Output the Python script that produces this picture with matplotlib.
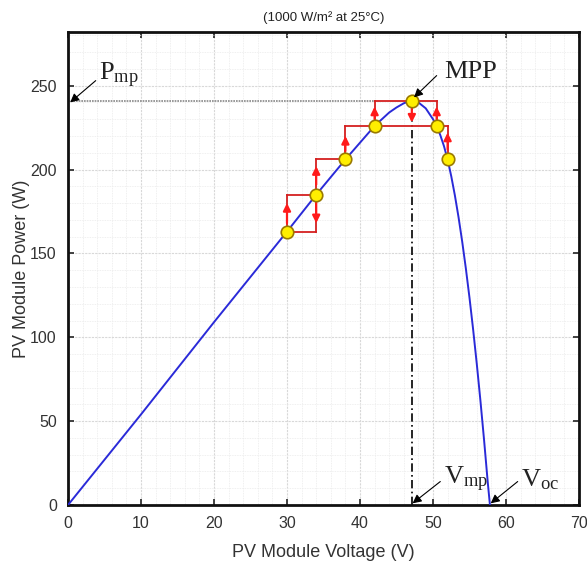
import matplotlib
matplotlib.use("Agg")
import matplotlib.pyplot as plt
from matplotlib.ticker import MultipleLocator

plt.rcParams['font.family'] = ['Liberation Sans', 'DejaVu Sans']
plt.rcParams['mathtext.fontset'] = 'custom'
plt.rcParams['mathtext.rm'] = 'Liberation Serif'
plt.rcParams['mathtext.it'] = 'Liberation Serif'

# P-V curve
curve_v = [0, 10, 20, 30, 34, 38, 40, 42, 43, 44, 45, 46, 47, 48, 49, 50, 50.5,
           51, 51.5, 52, 52.5, 53, 53.5, 54, 54.5, 55, 55.5, 56, 56.5, 57, 57.5, 57.8]
curve_p = [0, 54, 109, 163, 185, 206, 216, 226, 230, 234, 237, 239.5, 241, 240,
           236.5, 230, 226, 220.5, 214, 206, 196, 184.5, 171.5, 157, 141, 123.5,
           104.5, 84, 62, 38.5, 13.5, 0]

# perturb & observe operating points
track_v = [30, 34, 38, 42, 47.1, 50.5, 52]
track_p = [163, 185, 206, 226, 241, 226, 206]

# staircase segments (v0, p0, v1, p1)
steps = [
    (30, 163, 34, 163), (30, 163, 30, 185), (30, 185, 34, 185), (34, 163, 34, 185),
    (34, 185, 34, 206), (34, 206, 38, 206),
    (38, 206, 38, 226), (38, 226, 52, 226),
    (42, 226, 42, 241), (42, 241, 50.5, 241),
    (50.5, 226, 50.5, 241),
    (52, 206, 52, 226),
]
# red arrows (v, p_from, p_to)
arrows = [
    (30, 168, 180), (34, 181, 168), (34, 191, 202), (38, 211, 220),
    (42, 230, 237.5), (47.1, 237, 228), (50.5, 230, 237.5), (52, 212, 222),
]

v_mp, p_mp, v_oc = 47.1, 241, 57.8

fig = plt.figure(figsize=(5.87, 5.67), dpi=100)
ax = fig.add_axes([0.1158, 0.1093, 0.8706, 0.8343])

ax.set_xlim(0, 70)
ax.set_ylim(0, 282)
ax.xaxis.set_major_locator(MultipleLocator(10))
ax.yaxis.set_major_locator(MultipleLocator(50))
ax.xaxis.set_minor_locator(MultipleLocator(2))
ax.yaxis.set_minor_locator(MultipleLocator(10))
ax.grid(which='major', color='#d8d8d8', lw=0.8, ls=(0, (2, 1)))
ax.grid(which='minor', color='#ebebeb', lw=0.6, ls=(0, (1, 1)))
ax.set_axisbelow(True)
ax.tick_params(which='major', direction='in', length=4, width=1.3, top=True, right=True,
               labelsize=11.5, pad=8, colors='#333333')
ax.tick_params(which='minor', length=0, top=True, right=True)
for s in ax.spines.values():
    s.set_linewidth(2)
    s.set_color('#111111')

# Pmp dotted line
ax.plot([0, 42], [p_mp, p_mp], color='#888888', lw=1.2, ls=(0, (1, 0.6)), zorder=2)
# Vmp dash-dot line
ax.plot([v_mp, v_mp], [0, p_mp], color='black', lw=1.2, ls=(0, (5, 2, 1, 2)), zorder=2)

# curve
ax.plot(curve_v, curve_p, color='#2a2ad8', lw=1.4, zorder=3)

# staircase
for v0, p0, v1, p1 in steps:
    ax.plot([v0, v1], [p0, p1], color='#d42020', lw=1.3, zorder=4)
for v, pa, pb in arrows:
    ax.annotate('', xy=(v, pb), xytext=(v, pa),
                arrowprops=dict(arrowstyle='-|>', color='#ff1a1a', lw=1.6,
                                mutation_scale=11, shrinkA=0, shrinkB=0), zorder=5)

# points
ax.plot(track_v, track_p, 'o', ms=9, mfc='#ffee00', mec='#9a7a00', mew=1.2, zorder=6)

# annotations
apr = dict(arrowstyle='-|>', color='black', lw=0.8, mutation_scale=13, shrinkA=0, shrinkB=0)
ax.annotate('', xy=(0.3, 240), xytext=(3.8, 253), arrowprops=apr, zorder=7)
ax.text(4.3, 256, r'$\mathrm{P_{mp}}$', fontsize=19, ha='left', va='center', color='#222222')
ax.annotate('', xy=(47.4, 243), xytext=(50.5, 256), arrowprops=apr, zorder=7)
ax.text(51.6, 258, 'MPP', fontsize=19, ha='left', va='center', color='#222222',
        family='Liberation Serif')
ax.annotate('', xy=(47.2, 1), xytext=(51.0, 14), arrowprops=apr, zorder=7)
ax.text(51.5, 15, r'$\mathrm{V_{mp}}$', fontsize=19, ha='left', va='center', color='#222222')
ax.annotate('', xy=(57.9, 1), xytext=(61.6, 14), arrowprops=apr, zorder=7)
ax.text(62.1, 15, r'$\mathrm{V_{oc}}$', fontsize=19, ha='left', va='center', color='#222222')

ax.set_title('(1000 W/m² at 25°C)', fontsize=9.5, pad=8, color='#222222')
ax.set_xlabel('PV Module Voltage (V)', fontsize=13, color='#333333', labelpad=9)
ax.set_ylabel('PV Module Power (W)', fontsize=13, color='#333333', labelpad=0)

fig.savefig('out.png', dpi=100)
